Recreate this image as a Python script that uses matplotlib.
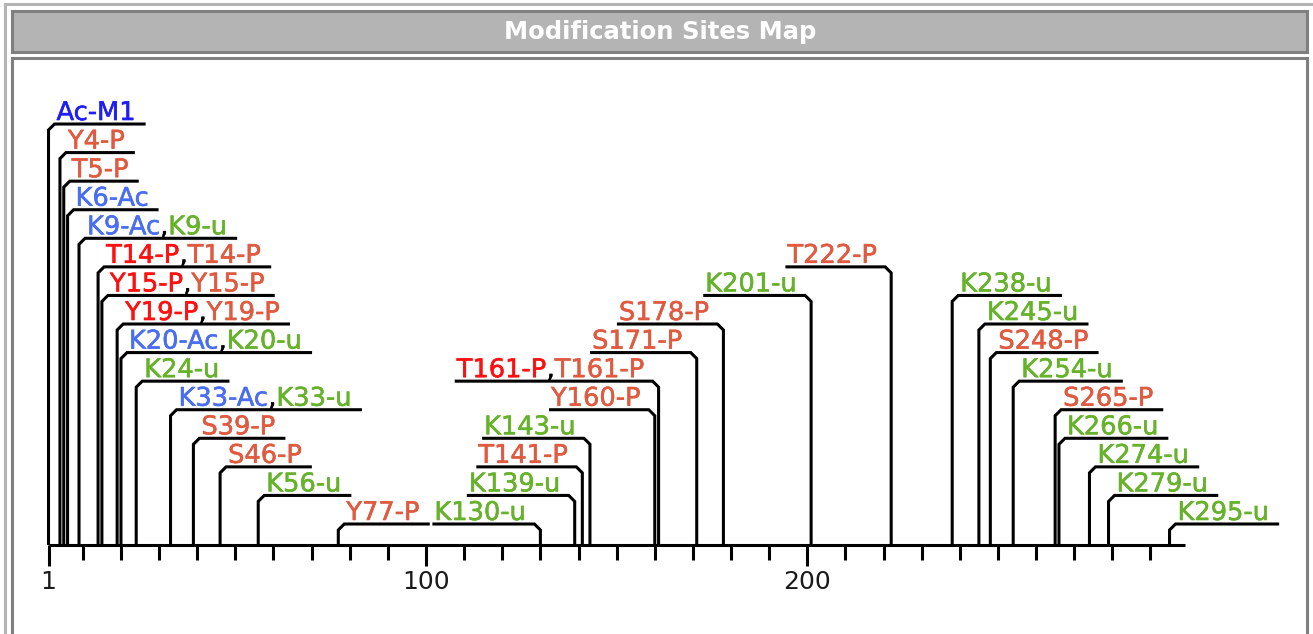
import matplotlib
matplotlib.use("Agg")
import matplotlib.pyplot as plt
import matplotlib.patheffects as pe
from matplotlib.patches import Rectangle

# protein and modification sites
protein_length = 299
site_pos = [1, 4, 5, 6, 9, 14, 15, 19, 20, 24, 33, 39, 46, 56, 77,
            130, 139, 141, 143, 160, 161, 171, 178, 201, 222,
            238, 245, 248, 254, 265, 266, 274, 279, 295]
site_level = [15, 14, 13, 12, 11, 10, 9, 8, 7, 6, 5, 4, 3, 2, 1,
              1, 2, 3, 4, 5, 6, 7, 8, 9, 10,
              9, 8, 7, 6, 5, 4, 3, 2, 1]
site_side = ["r"] * 15 + ["l"] * 10 + ["r"] * 9
site_labels = [
    ["Ac-M1"], ["Y4-P"], ["T5-P"], ["K6-Ac"], ["K9-Ac", "K9-u"],
    ["T14-P", "T14-P"], ["Y15-P", "Y15-P"], ["Y19-P", "Y19-P"],
    ["K20-Ac", "K20-u"], ["K24-u"], ["K33-Ac", "K33-u"], ["S39-P"],
    ["S46-P"], ["K56-u"], ["Y77-P"],
    ["K130-u"], ["K139-u"], ["T141-P"], ["K143-u"], ["Y160-P"],
    ["T161-P", "T161-P"], ["S171-P"], ["S178-P"], ["K201-u"], ["T222-P"],
    ["K238-u"], ["K245-u"], ["S248-P"], ["K254-u"], ["S265-P"],
    ["K266-u"], ["K274-u"], ["K279-u"], ["K295-u"],
]
site_kinds = [
    ["acn"], ["p"], ["p"], ["ac"], ["ac", "u"],
    ["p_red", "p"], ["p_red", "p"], ["p_red", "p"],
    ["ac", "u"], ["u"], ["ac", "u"], ["p"],
    ["p"], ["u"], ["p"],
    ["u"], ["u"], ["p"], ["u"], ["p"],
    ["p_red", "p"], ["p"], ["p"], ["u"], ["p"],
    ["u"], ["u"], ["p"], ["u"], ["p"],
    ["u"], ["u"], ["u"], ["u"],
]
kind_colors = {"acn": "#1f1ff5", "ac": "#4a6ef2", "p": "#e05a40",
               "p_red": "#ff1010", "u": "#66b22a"}
labeled_ticks = [1, 100, 200]
minor_ticks = [10, 20, 30, 40, 50, 60, 70, 80, 90, 110, 120, 130, 140, 150,
               160, 170, 180, 190, 210, 220, 230, 240, 250, 260, 270, 280, 290]

W, H = 1313, 634
px_res = 3.813      # pixels per residue
px_lev = 28.57      # pixels per level
x0_px = 44.7        # pixel of residue 0
axis_px = 545       # pixel row of the sequence line
base = 1 - 21 / px_lev  # sequence line in level units

fig = plt.figure(figsize=(W / 100, H / 100), dpi=100)


def box(x0, y0, x1, y1, **kw):
    fig.patches.append(Rectangle((x0 / W, 1 - y1 / H), (x1 - x0) / W, (y1 - y0) / H,
                                 transform=fig.transFigure, zorder=-5, **kw))


def thick(color):
    # a little heavier than plain DejaVu, like the original font
    return [pe.Stroke(linewidth=0.4, foreground=color), pe.Normal()]


box(4.5, 4.5, 1320, 650, facecolor="white", edgecolor="#b4b4b4", lw=2.2)
box(11.5, 11, 1306.5, 52, facecolor="#b4b4b4", edgecolor="#808080", lw=2.2)
box(11.5, 58, 1306.5, 660, facecolor="white", edgecolor="#808080", lw=2.2)
fig.text(660 / W, 1 - 32 / H, "Modification Sites Map", color="white",
         fontsize=17.5, fontweight="bold", ha="center", va="center",
         family="DejaVu Sans")

ax = fig.add_axes([0, 0, 1, 1])
ax.patch.set_visible(False)
ax.set_xlim(-x0_px / px_res, (W - x0_px) / px_res)
ax.set_ylim(base - (H - axis_px) / px_lev, base + axis_px / px_lev)
ax.axis("off")

lw = 2.2
ax.plot([1, protein_length], [base, base], color="black", lw=lw, solid_capstyle="butt")
ax.vlines(minor_ticks, base - 15 / px_lev, base, color="black", lw=lw)
ax.vlines(labeled_ticks, base - 21 / px_lev, base, color="black", lw=lw)
for t in labeled_ticks:
    ax.text(t, base - 44 / px_lev, str(t), ha="center", va="baseline",
            fontsize=18, color="#1a1a1a")

renderer = fig.canvas.get_renderer()
bx, by = 6 / px_res, 6 / px_lev
fs = 18.5

for pos, lev, side, labels, kinds in zip(site_pos, site_level, site_side,
                                         site_labels, site_kinds):
    pieces = []
    for i, (lab, kind) in enumerate(zip(labels, kinds)):
        if i > 0:
            pieces.append((",", "black"))
        pieces.append((lab, kind_colors[kind]))
    texts, widths = [], []
    for s, c in pieces:
        t = ax.text(0, lev + 4 / px_lev, s, color=c, fontsize=fs,
                    va="baseline", ha="left", path_effects=thick(c))
        widths.append(t.get_window_extent(renderer).width / px_res)
        texts.append(t)
    total = sum(widths)
    if side == "r":
        start = pos + 8 / px_res
    else:
        start = pos - 14 / px_res - total
    x = start
    for t, w in zip(texts, widths):
        t.set_x(x)
        x += w
    if side == "r":
        xs = [pos, pos, pos + bx, x + 10 / px_res]
    else:
        xs = [pos, pos, pos - bx, start - 2 / px_res]
    ys = [base, lev - by, lev, lev]
    ax.plot(xs, ys, color="black", lw=lw, solid_joinstyle="miter",
            solid_capstyle="butt")

fig.savefig("out.png", dpi=100)
